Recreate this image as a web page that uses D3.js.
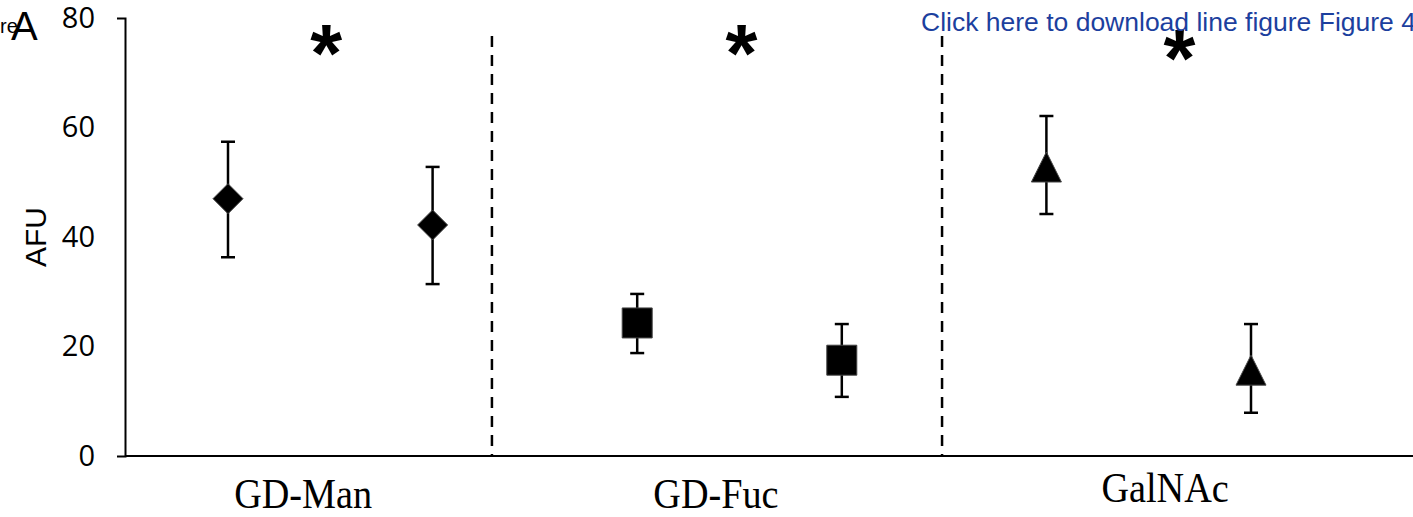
<!DOCTYPE html>
<meta charset="utf-8">
<script src="https://d3js.org/d3.v7.min.js"></script>
<style>
  body { margin: 0; background: #fff; }
</style>
<div id="my_dataviz"></div>
<script>

// data
var groups = ["GD-Man", "GD-Fuc", "GalNAc"];
var shapes = ["diamond", "diamond", "square", "square", "triangle", "triangle"];
var means  = [47.0, 42.2, 24.3, 17.5, 52.6, 15.5];
var upper  = [57.4, 52.8, 29.6, 24.1, 62.1, 24.1];
var lower  = [36.3, 31.4, 18.8, 10.8, 44.2, 7.9];
var yTicks = [0, 20, 40, 60, 80];
// positions in point-index units
var separators = [1.29, 3.49];
var starPos = [0.48, 2.51, 4.65];
var labelPos = [0.367, 2.385, 4.58];

var width = 1413, height = 517;

var svg = d3.select("#my_dataviz")
  .append("svg")
    .attr("width", width)
    .attr("height", height);

var y = d3.scaleLinear().domain([0, 80]).range([456, 18]);
var x = d3.scaleLinear().domain([0, 5]).range([228, 1251]);
var axisX = 125;

// y axis
var yAxis = svg.append("g")
    .attr("transform", "translate(" + axisX + ",0)")
    .call(d3.axisLeft(y).tickValues(yTicks).tickSizeInner(0).tickSizeOuter(8).tickPadding(30));
yAxis.select(".domain").attr("stroke", "#000").attr("stroke-width", 2);
yAxis.selectAll("text")
    .style("font", "29px 'Open Sans'")
    .attr("fill", "#000");

// x axis line
svg.append("line")
    .attr("x1", axisX).attr("x2", width)
    .attr("y1", y(0)).attr("y2", y(0))
    .attr("stroke", "#000").attr("stroke-width", 2);

// dashed separators
svg.selectAll(".sep")
  .data(separators)
  .enter().append("line")
    .attr("x1", function(d) { return x(d); })
    .attr("x2", function(d) { return x(d); })
    .attr("y1", 36).attr("y2", y(0))
    .attr("stroke", "#000").attr("stroke-width", 2.5)
    .attr("stroke-dasharray", "11,8");

// error bars
var bars = svg.selectAll(".err")
  .data(means)
  .enter().append("g")
    .attr("stroke", "#000").attr("stroke-width", 2.5);
bars.append("line")
    .attr("x1", function(d, i) { return x(i); })
    .attr("x2", function(d, i) { return x(i); })
    .attr("y1", function(d, i) { return y(upper[i]); })
    .attr("y2", function(d, i) { return y(lower[i]); });
bars.append("line")
    .attr("x1", function(d, i) { return x(i) - 7; })
    .attr("x2", function(d, i) { return x(i) + 7; })
    .attr("y1", function(d, i) { return y(upper[i]); })
    .attr("y2", function(d, i) { return y(upper[i]); });
bars.append("line")
    .attr("x1", function(d, i) { return x(i) - 7; })
    .attr("x2", function(d, i) { return x(i) + 7; })
    .attr("y1", function(d, i) { return y(lower[i]); })
    .attr("y2", function(d, i) { return y(lower[i]); });

// markers
function markerPath(s) {
  if (s == "diamond") return "M0,-15L15,0L0,15L-15,0Z";
  if (s == "square") return "M-15,-15L15,-15L15,15L-15,15Z";
  return "M0,-16L15,14L-15,14Z";
}
svg.selectAll(".pt")
  .data(means)
  .enter().append("path")
    .attr("transform", function(d, i) { return "translate(" + x(i) + "," + y(d) + ")"; })
    .attr("d", function(d, i) { return markerPath(shapes[i]); })
    .attr("fill", "#000")
    .attr("stroke", "#444")
    .attr("stroke-width", 1);

// significance stars
svg.selectAll(".star")
  .data(starPos)
  .enter().append("text")
    .attr("x", function(d) { return x(d); })
    .attr("y", function(d, i) { return i == 2 ? 86 : 81; })
    .attr("text-anchor", "middle")
    .style("font", "bold 82px 'Liberation Sans'")
    .text("*");

// group labels (serif, a little condensed like Cambria)
svg.selectAll(".grp")
  .data(groups)
  .enter().append("text")
    .attr("transform", function(d, i) {
      return "translate(" + x(labelPos[i]) + "," + (i == 2 ? 502 : 508) + ") scale(0.91,1)";
    })
    .attr("text-anchor", "middle")
    .style("font", "42px 'Liberation Serif'")
    .text(function(d) { return d; });

// y axis title
svg.append("text")
    .attr("transform", "translate(46," + y(40) + ") rotate(-90)")
    .attr("text-anchor", "middle")
    .style("font", "30px 'Liberation Sans'")
    .text("AFU");

// panel letter and page residue
svg.append("text")
    .attr("x", 0).attr("y", 33)
    .style("font", "20px 'Liberation Sans'")
    .text("re");
svg.append("text")
    .attr("x", 11).attr("y", 40)
    .style("font", "40px 'Liberation Sans'")
    .text("A");

svg.append("text")
    .attr("x", 921).attr("y", 31)
    .attr("fill", "#1c3f9e")
    .style("font", "26.5px 'Liberation Sans'")
    .text("Click here to download line figure Figure 4");

</script>
